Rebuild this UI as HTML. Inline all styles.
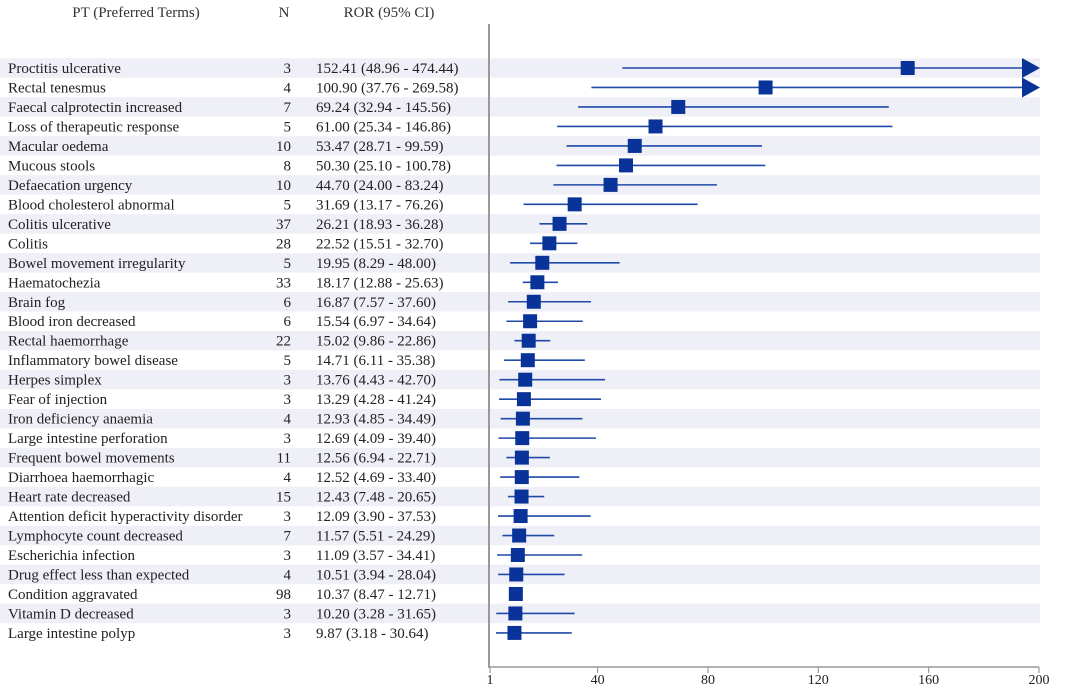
<!DOCTYPE html>
<html><head><meta charset="utf-8"><style>
html,body{margin:0;padding:0;background:#fff;}
svg{display:block;font-family:"Liberation Serif",serif;}
</style></head><body>
<svg id="chart" width="1065" height="685" viewBox="0 0 1065 685" xmlns="http://www.w3.org/2000/svg">
<g id="bands"></g>
<text x="136" y="17" font-size="15" text-anchor="middle" fill="#333">PT (Preferred Terms)</text>
<text x="284" y="17" font-size="15" text-anchor="middle" fill="#333">N</text>
<text x="389" y="17" font-size="15" text-anchor="middle" fill="#333">ROR (95% CI)</text>
<g id="rows"></g>
<g id="marks"></g>
<g id="axis"></g>
</svg>
<script>
const terms=["Proctitis ulcerative","Rectal tenesmus","Faecal calprotectin increased","Loss of therapeutic response","Macular oedema","Mucous stools","Defaecation urgency","Blood cholesterol abnormal","Colitis ulcerative","Colitis","Bowel movement irregularity","Haematochezia","Brain fog","Blood iron decreased","Rectal haemorrhage","Inflammatory bowel disease","Herpes simplex","Fear of injection","Iron deficiency anaemia","Large intestine perforation","Frequent bowel movements","Diarrhoea haemorrhagic","Heart rate decreased","Attention deficit hyperactivity disorder","Lymphocyte count decreased","Escherichia infection","Drug effect less than expected","Condition aggravated","Vitamin D decreased","Large intestine polyp"];
const counts=[3,4,7,5,10,8,10,5,37,28,5,33,6,6,22,5,3,3,4,3,11,4,15,3,7,3,4,98,3,3];
const ror=[152.41,100.90,69.24,61.00,53.47,50.30,44.70,31.69,26.21,22.52,19.95,18.17,16.87,15.54,15.02,14.71,13.76,13.29,12.93,12.69,12.56,12.52,12.43,12.09,11.57,11.09,10.51,10.37,10.20,9.87];
const lower=[48.96,37.76,32.94,25.34,28.71,25.10,24.00,13.17,18.93,15.51,8.29,12.88,7.57,6.97,9.86,6.11,4.43,4.28,4.85,4.09,6.94,4.69,7.48,3.90,5.51,3.57,3.94,8.47,3.28,3.18];
const upper=[474.44,269.58,145.56,146.86,99.59,100.78,83.24,76.26,36.28,32.70,48.00,25.63,37.60,34.64,22.86,35.38,42.70,41.24,34.49,39.40,22.71,33.40,20.65,37.53,24.29,34.41,28.04,12.71,31.65,30.64];
const ticks=[1,40,80,120,160,200];
const NS="http://www.w3.org/2000/svg";
const x0=490,x1=1039,vmin=1,vmax=200;
const xs=v=>x0+(v-vmin)/(vmax-vmin)*(x1-x0);
const y0=68,dy=19.48;
const ys=i=>y0+i*dy;
function mk(tag,attrs,parent){const e=document.createElementNS(NS,tag);for(const k in attrs)e.setAttribute(k,attrs[k]);document.getElementById(parent).appendChild(e);return e;}
const f=v=>v.toFixed(2);
terms.forEach((t,i)=>{
  const y=ys(i);
  if(i%2===0){const b=mk('rect',{x:0,y:y-dy/2,width:1040,height:dy,fill:'#efeff7'},'bands');
    
    }
  let e=mk('text',{x:8,y:y+5,'font-size':15,fill:'#222'},'rows');e.textContent=t;
  
  
  e=mk('text',{x:291,y:y+5,'font-size':15,fill:'#222','text-anchor':'end'},'rows');e.textContent=counts[i];
  
  
  e=mk('text',{x:316,y:y+5,'font-size':15,fill:'#222'},'rows');e.textContent=f(ror[i])+' ('+f(lower[i])+' - '+f(upper[i])+')';
  
  
  const over=upper[i]>vmax;
  const xe=over?1022:xs(upper[i]);
  e=mk('line',{x1:xs(lower[i]),x2:xe,y1:y,y2:y,stroke:'#1f4aa8','stroke-width':1.6},'marks');
  
  
  if(over){e=mk('polygon',{points:`1022,${y-10} 1040,${y} 1022,${y+10}`,fill:'#0a3399'},'marks');
    
    }
  e=mk('rect',{x:xs(ror[i])-7,y:y-7,width:14,height:14,fill:'#0a3399'},'marks');
  
  
});
let a=mk('line',{x1:x0-1,x2:x0-1,y1:24,y2:668,stroke:'#999','stroke-width':2},'axis');


a=mk('line',{x1:x0-1,x2:x1,y1:667,y2:667,stroke:'#999','stroke-width':1.5},'axis');


ticks.forEach(t=>{
  let e=mk('line',{x1:xs(t),x2:xs(t),y1:667,y2:673,stroke:'#999','stroke-width':1.2},'axis');
  
  
  e=mk('text',{x:xs(t),y:684,'font-size':14,'text-anchor':'middle',fill:'#222'},'axis');e.textContent=t;
  
  
});
</script>
</body></html>
